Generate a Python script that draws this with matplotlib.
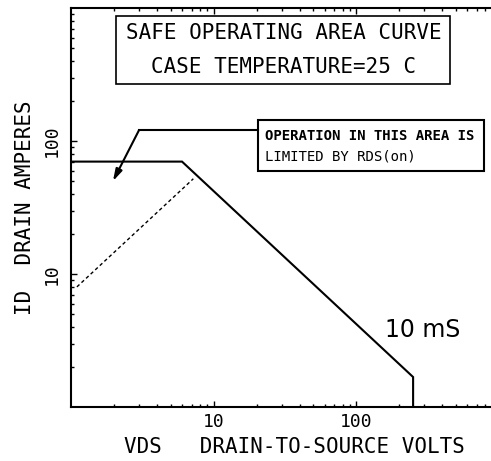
import matplotlib
matplotlib.use('Agg')
import matplotlib.pyplot as plt
from matplotlib.patches import Rectangle
from matplotlib.ticker import FixedLocator, LogLocator, NullFormatter

# safe operating area, 10 ms pulse
vds_limit = [1, 6, 250, 250]
id_limit = [70, 70, 1.68, 1]

# RDS(on) limit (dashed)
vds_rds = [1.1, 7.2]
id_rds = [8, 52]

x_ticks = [10, 100]
x_tick_labels = ['10', '100']
y_ticks = [10, 100]
y_tick_labels = ['10', '100']

mono = 'DejaVu Sans Mono'

fig = plt.figure(figsize=(4.91, 4.61), dpi=100)
ax = fig.add_axes([71 / 491, 54 / 461, 428 / 491, 399 / 461])

ax.plot(vds_limit, id_limit, color='black', lw=1.5, solid_joinstyle='miter')
ax.plot(vds_rds, id_rds, color='black', lw=1.0, linestyle=(0, (2.5, 2)))

ax.set_xscale('log')
ax.set_yscale('log')
ax.set_xlim(1, 1000)
ax.set_ylim(1, 1000)

ax.xaxis.set_major_locator(FixedLocator(x_ticks))
ax.xaxis.set_minor_locator(LogLocator(base=10, subs=range(2, 10)))
ax.xaxis.set_minor_formatter(NullFormatter())
ax.set_xticklabels(x_tick_labels, family=mono, fontsize=13)
ax.yaxis.set_major_locator(FixedLocator(y_ticks))
ax.yaxis.set_minor_locator(LogLocator(base=10, subs=range(2, 10)))
ax.yaxis.set_minor_formatter(NullFormatter())
ax.set_yticklabels(y_tick_labels, family=mono, fontsize=13, rotation=90, va='center')

ax.tick_params(which='both', direction='in', top=True, right=False, width=1)
ax.tick_params(which='major', length=4)
ax.tick_params(which='minor', length=2)
ax.tick_params(axis='x', pad=4)
ax.tick_params(axis='y', pad=7)

for side in ['left', 'bottom', 'top']:
	ax.spines[side].set_linewidth(1.5)
ax.spines['right'].set_visible(False)

# title box
ax.add_patch(Rectangle((0.105, 0.8095), 0.781, 0.1705, transform=ax.transAxes,
	fill=False, lw=1.2, ec='black'))
ax.text(0.498, 0.937, 'SAFE OPERATING AREA CURVE', transform=ax.transAxes,
	ha='center', va='center', family=mono, fontsize=15)
ax.text(0.497, 0.852, 'CASE TEMPERATURE=25 C', transform=ax.transAxes,
	ha='center', va='center', family=mono, fontsize=15)

# RDS(on) note
ax.add_patch(Rectangle((0.437, 0.5915), 0.528, 0.1275, transform=ax.transAxes,
	fill=False, lw=1.5, ec='black'))
ax.text(0.453, 0.679, 'OPERATION IN THIS AREA IS', transform=ax.transAxes,
	ha='left', va='center', family=mono, fontweight='bold', fontsize=10.1)
ax.text(0.453, 0.627, 'LIMITED BY RDS(on)', transform=ax.transAxes,
	ha='left', va='center', family=mono, fontsize=10.1)
ax.plot([0.437, 0.159], [0.694, 0.694], transform=ax.transAxes, color='black', lw=1.5)
ax.annotate('', xy=(0.098, 0.566), xytext=(0.159, 0.694),
	xycoords='axes fraction', textcoords='axes fraction',
	arrowprops=dict(arrowstyle='-|>,head_length=0.7,head_width=0.2',
		color='black', lw=1.5, shrinkA=0, shrinkB=0))

ax.text(160, 3.8, '10 mS', ha='left', va='center', fontsize=17, family='DejaVu Sans')

fig.text(294 / 491, 1 - 447 / 461, 'VDS   DRAIN-TO-SOURCE VOLTS',
	ha='center', va='center', family=mono, fontsize=15)
fig.text(25 / 491, 1 - 207.5 / 461, 'ID  DRAIN AMPERES', rotation=90,
	ha='center', va='center', family=mono, fontsize=15)

plt.savefig('out.png', dpi=100)
